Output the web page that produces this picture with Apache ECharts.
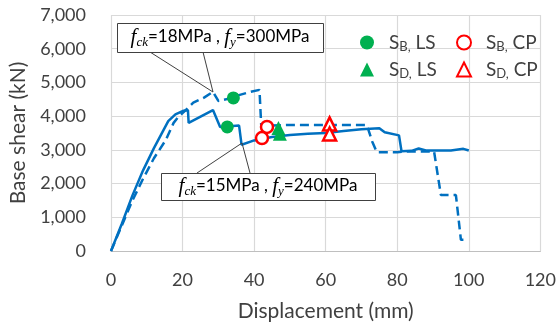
<!DOCTYPE html>
<html>
<head>
<meta charset="utf-8">
<script src="https://cdn.jsdelivr.net/npm/echarts@6/dist/echarts.min.js"></script>
<style>
html,body{margin:0;padding:0;background:#fff;}
#chart{width:559px;height:329px;}
</style>
</head>
<body>
<div id="chart"></div>
<script>
// ---- data (displacement mm, base shear kN) ----
var xTicks = [0, 20, 40, 60, 80, 100, 120];
var yTicks = [0, 1000, 2000, 3000, 4000, 5000, 6000, 7000];

var curveFck15 = [[0,0],[3,800],[6,1650],[9,2400],[12,3050],[14,3450],[16,3850],[18,4050],[20,4150],[21.5,4180],[21.7,3800],[28.5,4180],[30.5,3680],[35.8,3720],[36.5,3150],[40,3280],[45,3380],[50,3440],[55,3480],[60,3500],[65,3560],[70,3610],[75,3640],[76.5,3520],[80.5,3430],[81.2,2960],[84,2970],[86,3040],[88,2980],[95,2980],[98.5,3030],[100,2980]];
var curveFck18 = [[0,0],[3,750],[6,1500],[9,2150],[12,2750],[15.3,3290],[17.5,3800],[19,4000],[20.3,4120],[23,4400],[26,4550],[28.5,4720],[30,4450],[33,4520],[36,4630],[39,4720],[41.5,4780],[42,3700],[45,3720],[50,3740],[60,3740],[71.5,3740],[73,3250],[74.3,2930],[80,2930],[82,2950],[90.3,2950],[92.2,1660],[96.4,1660],[97.8,330],[98.5,330]];

var sbLS = [[34.2,4540],[32.5,3680]];
var sbCP = [[42.2,3350],[43.6,3680]];
var sdLS = [[46.8,3650],[47.2,3480]];
var sdCP = [[61.1,3770],[61.1,3470]];

var legendNames = ['SB, LS', 'SB, CP', 'SD, LS', 'SD, CP'];

var BLUE = '#0070C0', GREEN = '#00B050', RED = '#FF0000';
var chart = echarts.init(document.getElementById('chart'));

var legendRich = {
  p: {fontSize: 19, fontFamily: 'Lato', color: '#404040', lineHeight: 22, width: 10},
  t: {fontSize: 19, fontFamily: 'Lato', color: '#404040', lineHeight: 22},
  b: {fontSize: 13, fontFamily: 'Lato', color: '#404040', lineHeight: 12, verticalAlign: 'bottom'}
};
function legendFmt(n) {
  var s = n.charAt(1);
  var rest = n.slice(3);
  return '{p| }{t|S}{b|' + s + ',}{t|' + rest + '}';
}
function mkLegend(name, icon, left, top) {
  return {
    data: [{name: name, icon: icon}],
    left: left, top: top, itemWidth: 14, itemHeight: 14,
    selectedMode: false, formatter: legendFmt,
    textStyle: {rich: legendRich}
  };
}

var annRich = {
  t: {fontSize: 17, fontFamily: 'Lato', color: '#000', lineHeight: 24},
  f: {fontSize: 21, fontFamily: 'Liberation Serif', fontStyle: 'italic', color: '#000', lineHeight: 24},
  s: {fontSize: 13, fontFamily: 'Liberation Serif', fontStyle: 'italic', color: '#000', lineHeight: 10, verticalAlign: 'bottom'}
};

var option = {
  animation: false,
  backgroundColor: '#fff',
  grid: {left: 110, right: 17, top: 15, bottom: 78},
  legend: [
    mkLegend(legendNames[0], 'circle', 355, 28),
    mkLegend(legendNames[1], 'circle', 451, 28),
    mkLegend(legendNames[2], 'triangle', 355, 55),
    mkLegend(legendNames[3], 'triangle', 451, 55)
  ],
  xAxis: {
    type: 'value', min: xTicks[0], max: xTicks[xTicks.length-1], interval: 20,
    name: 'Displacement (mm)', nameLocation: 'middle', nameGap: 50,
    nameTextStyle: {fontSize: 21, fontFamily: 'Lato', color: '#404040'},
    axisLine: {show: true, lineStyle: {color: '#bfbfbf', width: 1.2}},
    axisTick: {show: false},
    axisLabel: {fontSize: 18, fontFamily: 'Lato', color: '#404040', margin: 20},
    splitLine: {show: true, lineStyle: {color: '#d9d9d9', width: 1.2}}
  },
  yAxis: {
    type: 'value', min: yTicks[0], max: yTicks[yTicks.length-1], interval: 1000,
    name: 'Base shear (kN)', nameLocation: 'middle', nameGap: 82, nameRotate: 90,
    nameTextStyle: {fontSize: 21, fontFamily: 'Lato', color: '#404040'},
    axisLine: {show: false},
    axisTick: {show: false},
    axisLabel: {fontSize: 18, fontFamily: 'Lato', color: '#404040', margin: 25,
      formatter: function (v) { return v.toLocaleString('en-US'); }},
    splitLine: {show: true, lineStyle: {color: '#d9d9d9', width: 1.2}}
  },
  series: [
    {type: 'line', name: 'fck15', data: curveFck15, showSymbol: false, symbol: 'none',
     lineStyle: {color: BLUE, width: 2.5}, z: 2},
    {type: 'line', name: 'fck18', data: curveFck18, showSymbol: false, symbol: 'none',
     lineStyle: {color: BLUE, width: 2.5, type: [9, 5]}, z: 2},
    {type: 'scatter', name: legendNames[0], data: sbLS, symbol: 'circle', symbolSize: 13,
     itemStyle: {color: GREEN, opacity: 1}, z: 3},
    {type: 'scatter', name: legendNames[2], data: sdLS, symbol: 'triangle', symbolSize: 14,
     itemStyle: {color: GREEN, opacity: 1}, z: 3},
    {type: 'scatter', name: legendNames[1], data: sbCP, symbol: 'circle', symbolSize: 12,
     itemStyle: {color: '#fff', borderColor: RED, borderWidth: 2.5, opacity: 1}, z: 4},
    {type: 'scatter', name: legendNames[3], data: sdCP, symbol: 'triangle', symbolSize: 13,
     itemStyle: {color: '#fff', borderColor: RED, borderWidth: 2.5, opacity: 1}, z: 4}
  ],
  graphic: [
    {type: 'polyline', z: 100, shape: {points: [[150,52],[213,92],[203,52]]},
     style: {stroke: '#404040', fill: null, lineWidth: 1}},
    {type: 'rect', z: 100, shape: {x: 117.5, y: 23.5, width: 206, height: 29},
     style: {fill: '#fff', stroke: '#404040', lineWidth: 1}},
    {type: 'text', z: 101, x: 220, y: 37,
     style: {text: '{f|f}{s|ck}{t|=18MPa , }{f|f}{s|y}{t|=300MPa}', rich: annRich,
             align: 'center', verticalAlign: 'middle'}},
    {type: 'polyline', z: 100, shape: {points: [[197,173],[242,143],[250,173]]},
     style: {stroke: '#404040', fill: null, lineWidth: 1}},
    {type: 'rect', z: 100, shape: {x: 161.5, y: 173.5, width: 214, height: 27},
     style: {fill: '#fff', stroke: '#404040', lineWidth: 1}},
    {type: 'text', z: 101, x: 268, y: 186,
     style: {text: '{f|f}{s|ck}{t|=15MPa , }{f|f}{s|y}{t|=240MPa}', rich: annRich,
             align: 'center', verticalAlign: 'middle'}}
  ]
};
chart.setOption(option);
</script>
</body>
</html>
